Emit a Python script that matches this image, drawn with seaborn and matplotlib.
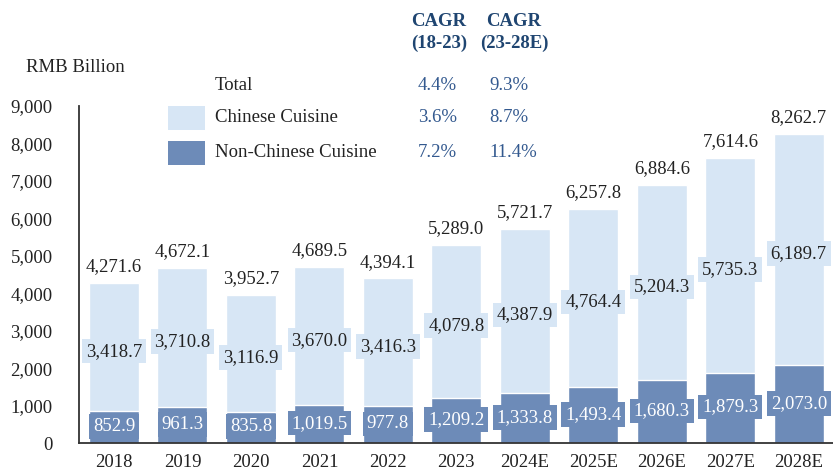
import matplotlib
matplotlib.use("Agg")
import matplotlib.pyplot as plt
import seaborn as sns
from matplotlib.patches import Rectangle

years = ["2018", "2019", "2020", "2021", "2022", "2023",
         "2024E", "2025E", "2026E", "2027E", "2028E"]
chinese = [3418.7, 3710.8, 3116.9, 3670.0, 3416.3, 4079.8,
           4387.9, 4764.4, 5204.3, 5735.3, 6189.7]
non_chinese = [852.9, 961.3, 835.8, 1019.5, 977.8, 1209.2,
               1333.8, 1493.4, 1680.3, 1879.3, 2073.0]
legend_rows = ["Total", "Chinese Cuisine", "Non-Chinese Cuisine"]
cagr_18_23 = ["4.4%", "3.6%", "7.2%"]
cagr_23_28 = ["9.3%", "8.7%", "11.4%"]

LIGHT = "#d7e6f5"
DARK = "#6d8bb8"
NAVY = "#1f4571"
VAL_BLUE = "#33598f"
TXT = "#222222"
FS = 13.5

sns.set_style("white")
plt.rcParams["font.family"] = ["Liberation Serif", "DejaVu Serif"]

totals = [c + n for c, n in zip(chinese, non_chinese)]

fig = plt.figure(figsize=(8.33, 4.71), dpi=100)
ax = fig.add_axes([79 / 833, 28 / 471, 754 / 833, 337 / 471])

sns.barplot(x=years, y=totals, color=LIGHT, saturation=1, width=0.73, ax=ax)
sns.barplot(x=years, y=non_chinese, color=DARK, saturation=1, width=0.73, ax=ax)

ax.set_xlim(-0.51, 10.5)
ax.set_ylim(0, 9000)
ax.set_yticks(range(0, 9001, 1000))
ax.set_yticklabels([f"{v:,}" for v in range(0, 9001, 1000)])
ax.set_xlabel("")
ax.set_ylabel("")
sns.despine(ax=ax, top=True, right=True)
for s in ("left", "bottom"):
    ax.spines[s].set_color("#333333")
    ax.spines[s].set_linewidth(1.3)
ax.tick_params(axis="y", length=8, width=1.3, color="#333333",
               labelsize=FS, labelcolor=TXT, pad=11)
ax.tick_params(axis="x", length=0, labelsize=FS, labelcolor=TXT, pad=8)

for i in range(len(years)):
    ax.text(i, totals[i] + 210, f"{totals[i]:,.1f}", ha="center", va="bottom",
            fontsize=FS, color=TXT)
    ax.text(i, non_chinese[i] + chinese[i] / 2 - 110, f"{chinese[i]:,.1f}",
            ha="center", va="center", fontsize=FS, color=TXT,
            bbox=dict(boxstyle="square,pad=0.2", fc=LIGHT, ec="none"))
    ax.text(i, non_chinese[i] / 2 + 20, f"{non_chinese[i]:,.1f}",
            ha="center", va="center", fontsize=FS, color="white",
            bbox=dict(boxstyle="square,pad=0.2", fc=DARK, ec="none"))

# header / legend table
fig.text(75 / 833, 1 - 68 / 471, "RMB Billion", ha="center", va="center",
         fontsize=FS, color=TXT)
fig.text(439 / 833, 1 - 21 / 471, "CAGR", ha="center", va="center",
         fontsize=FS, color=NAVY, fontweight="bold")
fig.text(439 / 833, 1 - 43 / 471, "(18-23)", ha="center", va="center",
         fontsize=FS, color=NAVY, fontweight="bold")
fig.text(514 / 833, 1 - 21 / 471, "CAGR", ha="center", va="center",
         fontsize=FS, color=NAVY, fontweight="bold")
fig.text(514 / 833, 1 - 43 / 471, "(23-28E)", ha="center", va="center",
         fontsize=FS, color=NAVY, fontweight="bold")

row_y = [86, 118, 153]
for k, label in enumerate(legend_rows):
    y = 1 - row_y[k] / 471
    fig.text(215 / 833, y, label, ha="left", va="center", fontsize=FS, color=TXT)
    fig.text(418 / 833, y, cagr_18_23[k], ha="left", va="center",
             fontsize=FS, color=VAL_BLUE)
    fig.text(489 / 833, y, cagr_23_28[k], ha="left", va="center",
             fontsize=FS, color=VAL_BLUE)

for k, col in ((1, LIGHT), (2, DARK)):
    cy = row_y[k]
    fig.patches.append(Rectangle((168 / 833, 1 - (cy + 12) / 471), 37 / 833, 24 / 471,
                                 transform=fig.transFigure, fc=col, ec="none"))

fig.savefig("out.png", dpi=100)
